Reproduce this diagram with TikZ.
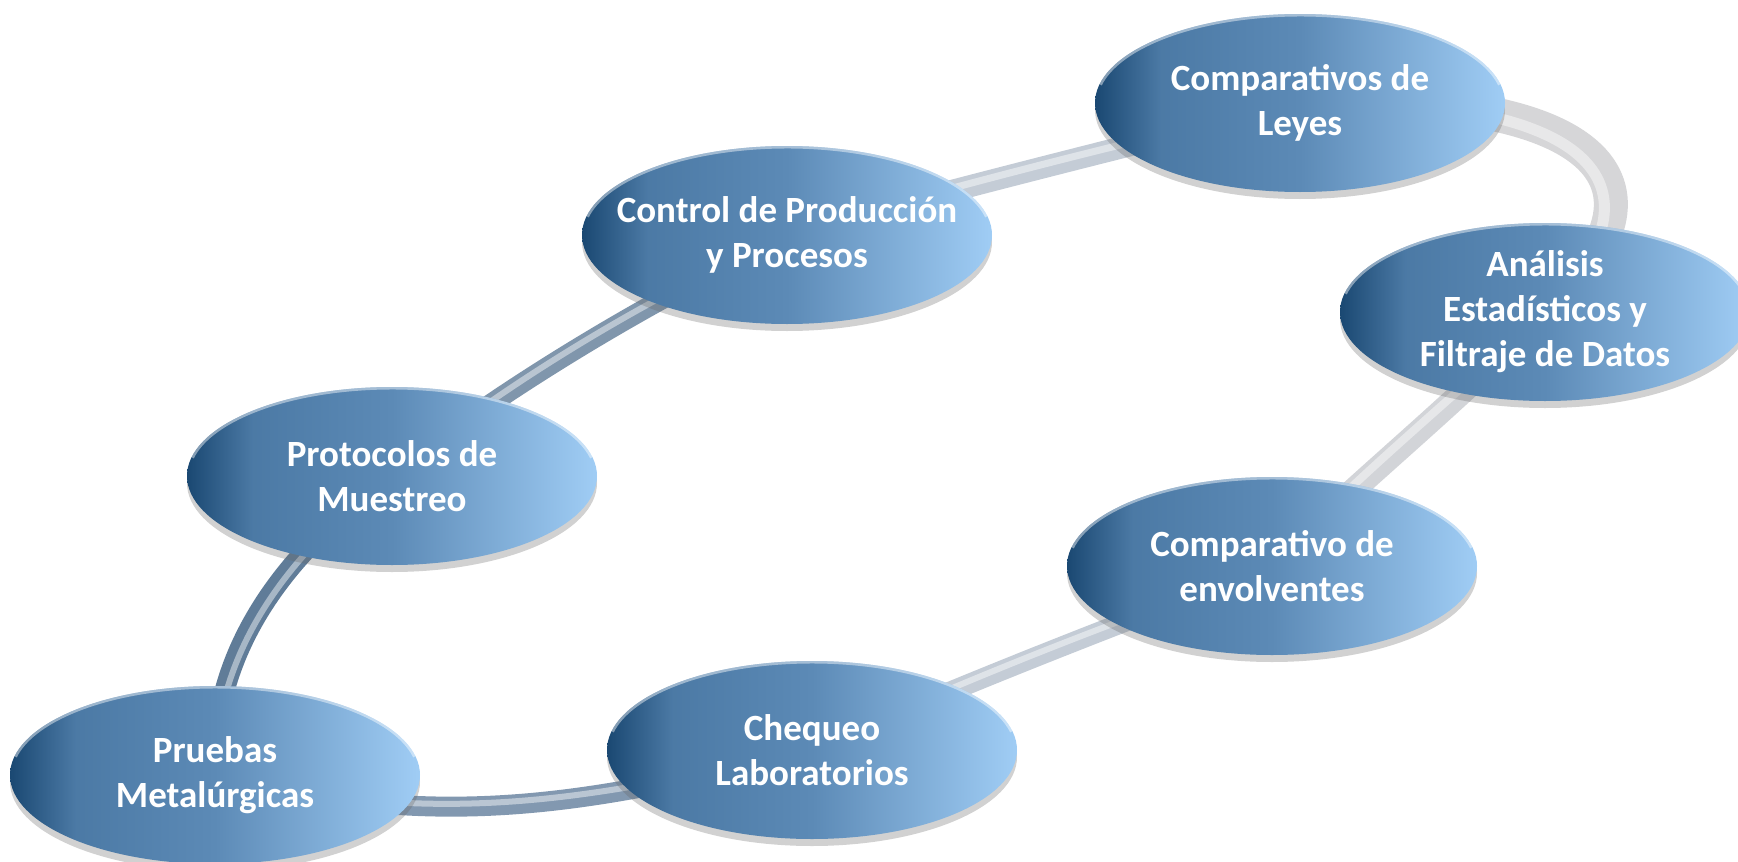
\documentclass[tikz,border=0pt]{standalone}
\usepackage{fontspec}
\setmainfont{Carlito}
\usetikzlibrary{shapes.geometric,shadows}
\definecolor{dkb}{RGB}{26,72,114}
\definecolor{mdb}{RGB}{92,138,182}
\definecolor{ltb}{RGB}{160,205,245}
\pgfdeclarehorizontalshading{ballh}{100bp}{color(0bp)=(dkb); color(25bp)=(dkb); color(33bp)=(mdb!75!dkb); color(50bp)=(mdb); color(75bp)=(ltb); color(100bp)=(ltb)}
\tikzset{
  ball/.style={ellipse, inner xsep=-80pt, inner ysep=-40pt, minimum width=410pt, minimum height=178pt,
    shading=ballh, draw=none, text=white, align=center,
    font=\fontsize{37}{45}\selectfont\bfseries,
    drop shadow={shadow xshift=0pt, shadow yshift=-7pt, opacity=0.3, fill=black!60},
    path picture={\draw[white, opacity=0.45, line width=3pt]
      (path picture bounding box.center) ++(12:204pt and 88pt)
      arc[start angle=12, end angle=168, x radius=204pt, y radius=88pt];}},
  tube/.style={line width=#1, line cap=butt},
  hilite/.style={line width=#1, white, opacity=0.45},
}
\begin{document}
\begin{tikzpicture}[x=1pt,y=-1pt]
\useasboundingbox (0,0) rectangle (1738,862);
\coordinate (cpru) at (215,775);
\coordinate (cpro) at (392,476);
\coordinate (ccon) at (787,235);
\coordinate (ccom) at (1300,103);
\coordinate (cana) at (1545,312);
\coordinate (cenv) at (1272,566);
\coordinate (cche) at (812,750);
% ring segments
\draw[tube=20pt, color={rgb,255:red,96;green,124;blue,152}] (cpru) .. controls (210,640) and (300,540) .. (cpro);
\draw[hilite=6pt] (cpru) .. controls (214,640) and (304,540) .. (cpro);
\draw[tube=20pt, color={rgb,255:red,128;green,150;blue,172}] (cpro) .. controls (500,390) and (650,300) .. (ccon);
\draw[hilite=6pt] (cpro) .. controls (500,386) and (650,296) .. (ccon);
\draw[tube=22pt, color={rgb,255:red,196;green,204;blue,214}] (ccon) .. controls (950,190) and (1150,140) .. (ccom);
\draw[hilite=7pt] (ccon) .. controls (950,186) and (1150,136) .. (ccom);
\draw[tube=34pt, color={rgb,255:red,214;green,214;blue,216}] (ccom) .. controls (1590,90) and (1690,180) .. (cana);
\draw[hilite=11pt] (ccom) .. controls (1584,94) and (1678,182) .. (cana);
\draw[tube=24pt, color={rgb,255:red,210;green,212;blue,216}] (cana) .. controls (1460,400) and (1360,480) .. (cenv);
\draw[hilite=8pt] (cana) .. controls (1456,396) and (1356,476) .. (cenv);
\draw[tube=20pt, color={rgb,255:red,196;green,204;blue,214}] (cenv) .. controls (1100,630) and (950,690) .. (cche);
\draw[hilite=6pt] (cenv) .. controls (1100,626) and (950,686) .. (cche);
\draw[tube=20pt, color={rgb,255:red,130;green,152;blue,176}] (cche) .. controls (600,800) and (450,835) .. (cpru);
\draw[hilite=6pt] (cche) .. controls (600,796) and (450,831) .. (cpru);
% ellipses
\node[ball] (com) at (ccom) {Comparativos de\\Leyes};
\node[ball] (con) at (ccon) {Control de Producción\\y Procesos};
\node[ball] (ana) at (cana) {Análisis\\Estadísticos y\\Filtraje de Datos};
\node[ball] (pro) at (cpro) {Protocolos de\\Muestreo};
\node[ball] (env) at (cenv) {Comparativo de\\envolventes};
\node[ball] (che) at (cche) {Chequeo\\Laboratorios};
\node[ball] (pru) at (cpru) {Pruebas\\Metalúrgicas};
\end{tikzpicture}
\end{document}
